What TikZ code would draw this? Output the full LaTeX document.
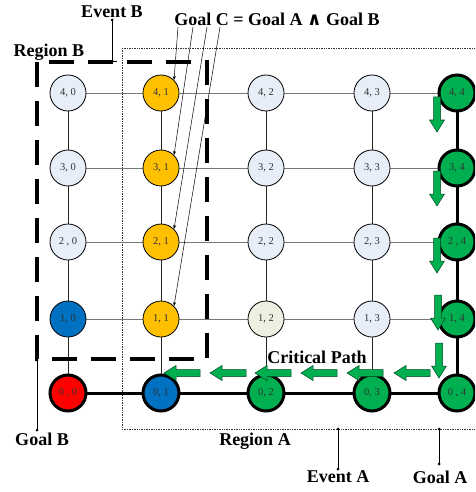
\documentclass[tikz,border=0pt]{standalone}
\usepackage{fontspec}
\setmainfont{Liberation Serif}
\newfontfamily\symfont{DejaVu Serif}
\usetikzlibrary{arrows.meta}
\definecolor{lightnd}{RGB}{232,238,248}
\definecolor{ivorynd}{RGB}{236,240,224}
\definecolor{gnd}{RGB}{0,176,80}
\definecolor{ynd}{RGB}{255,192,0}
\definecolor{bnd}{RGB}{0,112,192}
\definecolor{rnd}{RGB}{255,0,0}
\definecolor{gridgray}{RGB}{120,120,120}
\tikzset{
  nd/.style={circle,minimum size=36pt,inner sep=0pt,draw=black,line width=0.8pt,
    font=\fontsize{10.5}{12}\selectfont,text=black!80},
  thk/.style={line width=3pt},
  lbl/.style={font=\fontsize{18}{20}\selectfont\bfseries,inner sep=0pt},
  garrow/.style={fill=gnd,draw=black!60!gnd,line width=0.5pt},
  gridh/.style={draw=gridgray,line width=0.9pt},
  gridv/.style={draw=black!85,line width=0.7pt},
  conn/.style={draw=black,line width=0.6pt},
  dotend/.style={circle,fill=black,inner sep=0pt,minimum size=3pt},
}
\newcommand{\blkleft}[2]{\path[garrow] (#1,#2) -- ++(12,-7.5) -- ++(0,4) -- ++(24,0) -- ++(0,7) -- ++(-24,0) -- ++(0,4) -- cycle;}
\newcommand{\blkdown}[2]{\path[garrow] (#1,#2) -- ++(-7.5,-12) -- ++(4,0) -- ++(0,-23) -- ++(7,0) -- ++(0,23) -- ++(4,0) -- cycle;}
\begin{document}
\begin{tikzpicture}[x=1pt,y=-1pt]
\useasboundingbox (0,0) rectangle (475,492);
\clip (0,0) rectangle (475,492);
% region A dotted
\draw[densely dotted,line width=0.7pt,black!80] (122,48) rectangle (485,429);
% grid lines
\foreach \r/\y in {1/319,2/242,3/168,4/93}{
  \draw[gridh] (68,\y) -- (457,\y);
}
\foreach \x in {68,161,266,372}{
  \draw[gridv] (\x,93) -- (\x,393);
}
\draw[thk] (68,393) -- (457,393);
\draw[thk] (457,93) -- (457,393);
% nodes
\node[nd,fill=lightnd] (n40) at (68,93) {4, 0};
\node[nd,fill=ynd] (n41) at (161,93) {4, 1};
\node[nd,fill=lightnd] (n42) at (266,93) {4, 2};
\node[nd,fill=lightnd] (n43) at (372,93) {4, 3};
\node[nd,thk,fill=gnd] (n44) at (457,93) {4, 4};
\node[nd,fill=lightnd] (n30) at (68,168) {3, 0};
\node[nd,fill=ynd] (n31) at (161,168) {3, 1};
\node[nd,fill=lightnd] (n32) at (266,168) {3, 2};
\node[nd,fill=lightnd] (n33) at (372,168) {3, 3};
\node[nd,thk,fill=gnd] (n34) at (457,168) {3, 4};
\node[nd,fill=lightnd] (n20) at (68,242) {2 , 0};
\node[nd,fill=ynd] (n21) at (161,242) {2, 1};
\node[nd,fill=lightnd] (n22) at (266,242) {2, 2};
\node[nd,fill=lightnd] (n23) at (372,242) {2, 3};
\node[nd,thk,fill=gnd] (n24) at (457,242) {2 , 4};
\node[nd,fill=bnd] (n10) at (68,319) {1, 0};
\node[nd,fill=ynd] (n11) at (161,319) {1, 1};
\node[nd,fill=ivorynd] (n12) at (266,319) {1, 2};
\node[nd,fill=lightnd] (n13) at (372,319) {1, 3};
\node[nd,thk,fill=gnd] (n14) at (457,319) {1, 4};
\node[nd,thk,fill=rnd] (n00) at (68,393) {0 , 0};
\node[nd,thk,fill=bnd] (n01) at (161,393) {0, 1};
\node[nd,thk,fill=gnd] (n02) at (266,393) {0, 2};
\node[nd,thk,fill=gnd] (n03) at (372,393) {0, 3};
\node[nd,thk,fill=gnd] (n04) at (457,393) {0 , 4};
% region B dashed
\draw[line width=3.5pt,dash pattern=on 25pt off 14pt] (37,62) rectangle (207,359);
% green arrows
\blkdown{437}{132}
\blkdown{437}{206}
\blkdown{437}{273}
\blkdown{438}{330}
\blkdown{439}{378}
\blkleft{164}{373}
\blkleft{210}{373}
\blkleft{255}{373}
\blkleft{301}{373}
\blkleft{347}{373}
\blkleft{394}{373}
% labels
\node[lbl] (evB) at (112,12) {Event B};
\node[lbl] (goalC) at (277,19) {Goal C = Goal A {\symfont\bfseries ∧} Goal B};
\node[lbl] (regB) at (49,52) {Region B};
\node[lbl] (goalB) at (42,439) {Goal B};
\node[lbl] (regA) at (255,441) {Region A};
\node[lbl] (evA) at (338,477) {Event A};
\node[lbl] (goalA) at (440,477) {Goal A};
\node[lbl] (crit) at (317,357) {Critical Path};
% connectors
\coordinate (eBtop) at (112,20);
\coordinate (eBbot) at (112,61);
\draw[conn] (eBtop) -- (eBbot) -- ++(5,0);
\node[dotend] at (eBtop) {};
\node[dotend] at (eBbot) {};
\coordinate (gBtop) at (37,360);
\coordinate (gBbot) at (37,430);
\draw[conn] (gBtop) -- (gBbot);
\node[dotend] at (gBtop) {};
\node[dotend] at (gBbot) {};
\coordinate (eAtop) at (338,429);
\coordinate (eAbot) at (338,469);
\draw[conn] (eAtop) -- (eAbot);
\node[dotend] at (eAtop) {};
\node[dotend] at (eAbot) {};
\coordinate (gAtop) at (439,429);
\coordinate (gAbot) at (439,464);
\draw[conn] (gAtop) -- (gAbot);
\node[dotend] at (gAtop) {};
\node[dotend] at (gAbot) {};
% goal C arrows
\coordinate (c1) at (178,27);
\coordinate (c2) at (193,27);
\coordinate (c3) at (207,27);
\coordinate (c4) at (220,27);
\draw[conn,line width=0.5pt,-{Stealth[length=4pt,width=3pt]}] (c1) -- (n41.north east);
\draw[conn,line width=0.5pt,-{Stealth[length=4pt,width=3pt]}] (c2) -- (n31.north east);
\draw[conn,line width=0.5pt,-{Stealth[length=4pt,width=3pt]}] (c3) -- (n21.north east);
\draw[conn,line width=0.5pt,-{Stealth[length=4pt,width=3pt]}] (c4) -- (n11.north east);
\end{tikzpicture}
\end{document}
